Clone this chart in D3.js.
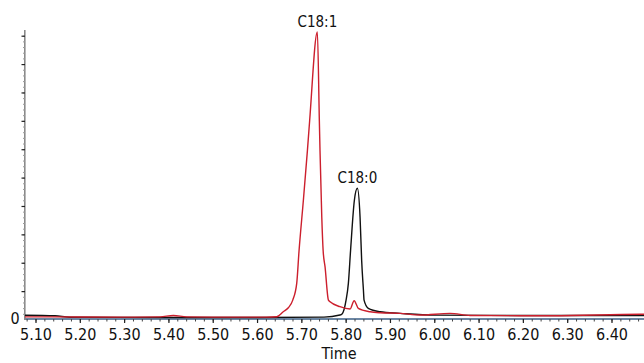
<!DOCTYPE html>
<html>
<head>
<meta charset="utf-8">
<script src="https://cdn.jsdelivr.net/npm/d3@7"></script>
<style>
  body { margin: 0; background: #fff; }
  text { font-family: "DejaVu Sans Condensed", "Liberation Sans Narrow", sans-serif; fill: #111; }
</style>
</head>
<body>
<svg id="chart" width="644" height="363"></svg>
<script>
// chromatogram traces (time in min, response in arbitrary units)
var redTime  = [5.073, 5.14, 5.30, 5.38, 5.41, 5.44, 5.55, 5.62, 5.6433, 5.658, 5.6695, 5.6795, 5.6885, 5.6935, 5.7034, 5.7125, 5.7176, 5.735, 5.7395, 5.741, 5.745, 5.748, 5.7524, 5.76, 5.7637, 5.786, 5.809, 5.818, 5.8275, 5.854, 5.8765, 5.9217, 5.9668, 6.0345, 6.08, 6.267, 6.463, 6.48];
var redValue = [0.11, 0.11, 0.10, 0.11, 0.16, 0.11, 0.10, 0.10, 0.116, 0.29, 0.43, 0.70, 1.30, 2.40, 4.21, 5.96, 7.02, 10.15, 7.02, 5.96, 3.62, 2.46, 1.87, 0.70, 0.64, 0.47, 0.39, 0.68, 0.41, 0.29, 0.256, 0.235, 0.175, 0.235, 0.158, 0.15, 0.20, 0.20];

var blackTime  = [5.073, 5.143, 5.177, 5.40, 5.60, 5.75, 5.786, 5.7907, 5.7998, 5.805, 5.810, 5.8185, 5.8253, 5.8314, 5.835, 5.839, 5.8404, 5.850, 5.8765, 5.9217, 6.00, 6.20, 6.48];
var blackValue = [0.17, 0.15, 0.095, 0.09, 0.09, 0.10, 0.175, 0.21, 0.70, 1.29, 2.46, 4.21, 4.64, 3.62, 2.10, 1.05, 0.70, 0.41, 0.29, 0.235, 0.17, 0.16, 0.16];

var xTicks = [5.10, 5.20, 5.30, 5.40, 5.50, 5.60, 5.70, 5.80, 5.90, 6.00, 6.10, 6.20, 6.30, 6.40];
var peakLabels = [
  { name: "C18:1", time: 5.735, value: 10.15 },
  { name: "C18:0", time: 5.8253, value: 4.64 }
];

var svg = d3.select("#chart");

var x = d3.scaleLinear().domain([5.10, 6.40]).range([36, 612]);
var y = d3.scaleLinear().domain([0, 10]).range([320, 36.2]);

svg.append("clipPath").attr("id", "plotclip")
  .append("rect").attr("x", 25).attr("y", 0).attr("width", 619).attr("height", 320);

//x axis
var xMinor = d3.range(5.08, 6.47, 0.02).map(d => Math.round(d * 100) / 100);
var xAxisG = svg.append("g").attr("transform", "translate(0,319)");
xAxisG.append("line").attr("x1", 24).attr("x2", 644).attr("y1", 0).attr("y2", 0)
  .attr("stroke", "#3b5f86").attr("stroke-width", 1.5);
xAxisG.selectAll(".minor").data(xMinor).enter().append("line")
  .attr("x1", d => x(d)).attr("x2", d => x(d)).attr("y1", 0).attr("y2", 2.5)
  .attr("stroke", "#444").attr("stroke-width", 1);
xAxisG.selectAll(".major").data(xTicks).enter().append("line")
  .attr("x1", d => x(d)).attr("x2", d => x(d)).attr("y1", 0).attr("y2", 4)
  .attr("stroke", "#222").attr("stroke-width", 1.2);
xAxisG.selectAll(".lab").data(xTicks).enter().append("text")
  .attr("x", d => x(d)).attr("y", 21)
  .attr("text-anchor", "middle").style("font-size", "16px")
  .text(d => d.toFixed(2));

svg.append("text").attr("x", 339).attr("y", 359).attr("text-anchor", "middle")
  .style("font-size", "16px").text("Time");

//y axis
var yMinor = d3.range(0.2, 10.2, 0.2);
var yAxisG = svg.append("g");
yAxisG.append("line").attr("x1", 24.8).attr("x2", 24.8).attr("y1", 30).attr("y2", 320)
  .attr("stroke", "#8a8a8a").attr("stroke-width", 1.6);
yAxisG.selectAll(".minor").data(yMinor).enter().append("line")
  .attr("x1", 23).attr("x2", 25).attr("y1", d => y(d)).attr("y2", d => y(d))
  .attr("stroke", "#999").attr("stroke-width", 1);
yAxisG.selectAll(".major").data(d3.range(1, 11)).enter().append("line")
  .attr("x1", 21.5).attr("x2", 25).attr("y1", d => y(d)).attr("y2", d => y(d))
  .attr("stroke", "#222").attr("stroke-width", 1.2);
svg.append("text").attr("x", 15).attr("y", 323.5).attr("text-anchor", "middle")
  .style("font-size", "16px").text("0");

//traces
var line = d3.line().x(d => x(d[0])).y(d => y(d[1])).curve(d3.curveMonotoneX);
var plot = svg.append("g").attr("clip-path", "url(#plotclip)");

plot.append("path").datum(d3.zip(blackTime, blackValue))
  .attr("d", line).attr("fill", "none").attr("stroke", "#111").attr("stroke-width", 1.4);
plot.append("path").datum(d3.zip(redTime, redValue))
  .attr("d", line).attr("fill", "none").attr("stroke", "#cc1f2d").attr("stroke-width", 1.4);

//peak labels
svg.selectAll(".peak").data(peakLabels).enter().append("text")
  .attr("x", d => x(d.time)).attr("y", d => y(d.value) - 5)
  .attr("text-anchor", "middle").style("font-size", "15px")
  .text(d => d.name);
</script>
</body>
</html>
